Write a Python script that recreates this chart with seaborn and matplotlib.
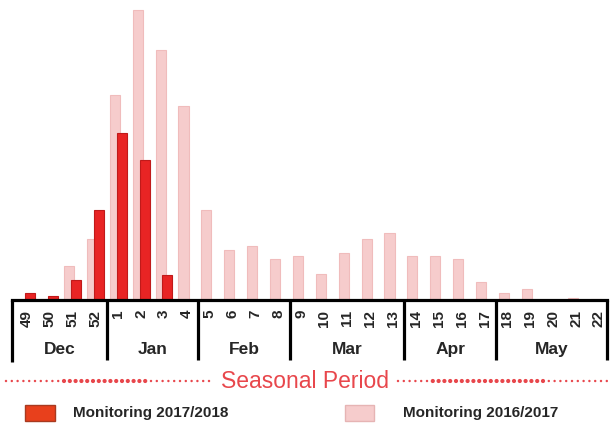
import numpy as np
import pandas as pd
import matplotlib.pyplot as plt
import matplotlib.transforms as mtransforms
import seaborn as sns
from matplotlib.patches import Rectangle

# weeks of the season, Dec (49) to May (22)
weeks = ["49", "50", "51", "52"] + [str(i) for i in range(1, 23)]
months = ["Dec", "Jan", "Feb", "Mar", "Apr", "May"]
month_weeks = [4, 4, 4, 5, 4, 5]

monitoring_2016 = [0, 1, 34, 61, 205, 290, 250, 194, 90, 50, 54, 41, 44,
                   26, 47, 61, 67, 44, 44, 41, 18, 7, 11, 0, 2, 1]
monitoring_2017 = [7, 4, 20, 90, 167, 140, 25, 0, 0, 0, 0, 0, 0,
                   0, 0, 0, 0, 0, 0, 0, 0, 0, 0, 0, 0, 0]

red = "#e82424"
pink = "#f6cccc"

df = pd.DataFrame({
    "week": weeks * 2,
    "value": monitoring_2016 + monitoring_2017,
    "season": ["2016/2017"] * len(weeks) + ["2017/2018"] * len(weeks),
})

sns.set_style("white")
plt.rcParams["font.family"] = ["Liberation Sans", "DejaVu Sans"]

fig = plt.figure(figsize=(6.12, 4.23), dpi=100)
ax = fig.add_axes([12 / 612, 1 - 300 / 423, 595 / 612, 295 / 423])

sns.barplot(data=df, x="week", y="value", hue="season", order=weeks,
            hue_order=["2016/2017", "2017/2018"], saturation=1,
            palette=[pink, red], width=0.6, legend=False, ax=ax)

# widen bars so the pair overlaps slightly, as in the original
for i, p in enumerate(ax.patches):
    cx = p.get_x() + p.get_width() / 2
    p.set_width(0.44)
    p.set_x(cx - 0.22)
    if i < len(weeks):
        p.set_edgecolor("#f0bcbc")
    else:
        p.set_edgecolor("#c01a1a")
    p.set_linewidth(0.8)

ax.set_xlim(-0.64, 25.35)
ax.set_ylim(0, 295)
ax.set_xlabel("")
ax.set_ylabel("")
ax.set_yticks([])
for s in ["top", "left", "right"]:
    ax.spines[s].set_visible(False)
ax.spines["bottom"].set_linewidth(2.3)
ax.spines["bottom"].set_color("black")
ax.tick_params(axis="x", length=0, pad=7, labelrotation=90, labelsize=11)
for lab in ax.get_xticklabels():
    lab.set_fontweight("bold")

# month separators and labels
trans = mtransforms.blended_transform_factory(ax.transData, ax.transAxes)
bounds = [-0.64]
acc = -0.5
for n in month_weeks:
    acc += n
    bounds.append(acc)
bounds[-1] = 25.35
for j, b in enumerate(bounds):
    low = -62 / 295 if j == 0 else -60 / 295
    ax.plot([b, b], [0, low], transform=trans, color="black", lw=2.3,
            clip_on=False, solid_capstyle="butt")
for j, m in enumerate(months):
    ax.text((bounds[j] + bounds[j + 1]) / 2, -49 / 295, m, transform=trans,
            ha="center", va="center", fontsize=12.5, fontweight="bold")

# bottom decoration in pixel coordinates
ov = fig.add_axes([0, 0, 1, 1])
ov.set_xlim(0, 612)
ov.set_ylim(423, 0)
ov.axis("off")

ov.text(305, 381, "Seasonal Period", color="#e8474c", fontsize=16.5,
        ha="center", va="center")
for x0, x1, b0, b1 in [(6, 214, 60, 150), (398, 608, 430, 545)]:
    xs = np.arange(x0, x1, 5.8)
    sizes = np.where((xs > b0) & (xs < b1), 9, 3)
    ov.scatter(xs, np.full_like(xs, 381), s=sizes, color="#e8474c",
               linewidths=0)

ov.add_patch(Rectangle((25, 405.5), 30, 16, facecolor="#e8401c",
                       edgecolor="#a83a20", lw=1))
ov.text(73, 413.5, "Monitoring 2017/2018", fontsize=11, fontweight="bold",
        va="center")
ov.add_patch(Rectangle((345, 405.5), 29, 16, facecolor=pink,
                       edgecolor="#e6b4b4", lw=1))
ov.text(403, 413.5, "Monitoring 2016/2017", fontsize=11, fontweight="bold",
        va="center")

fig.savefig("out.png", dpi=100, facecolor="white")
